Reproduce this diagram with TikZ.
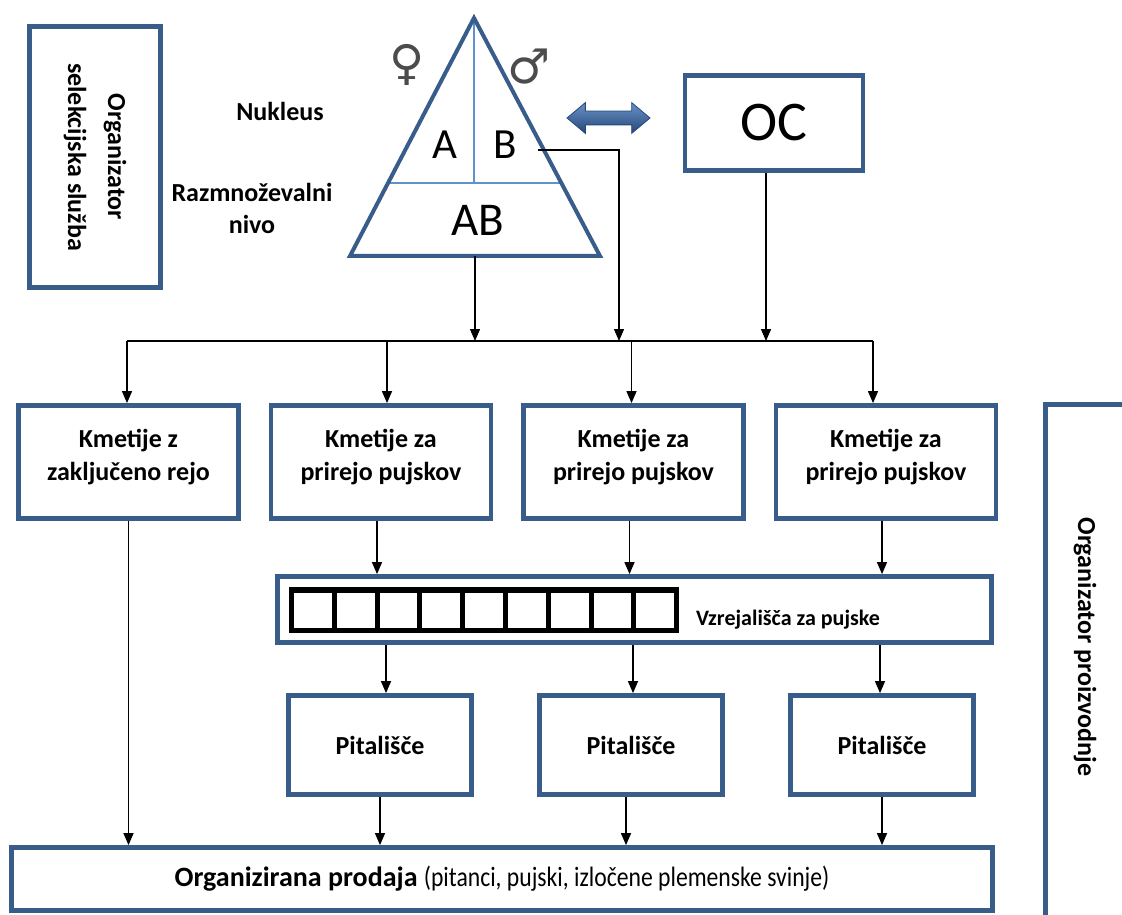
\documentclass[tikz,border=0pt]{standalone}
\usepackage{fontspec}
\setmainfont{Carlito}
\newfontfamily\symfont{DejaVu Sans}
\usepackage{graphicx}
\usetikzlibrary{arrows.meta,shapes.arrows,calc}
\definecolor{boxblue}{RGB}{56,93,138}
\definecolor{lineblue}{RGB}{95,145,205}
\definecolor{arrtop}{RGB}{105,145,200}
\definecolor{arrbot}{RGB}{38,72,120}
\tikzstyle{blue box}=[
        draw = boxblue,
        line width = 2.4pt,
        fill = white,
        rectangle,
        align = center,
        font = \fontsize{13}{16.5}\selectfont\bfseries
    ]
\tikzstyle{farm box}=[
    blue box,
    minimum width = 110pt,
    minimum height = 56.5pt
]
\tikzstyle{feed box}=[
    blue box,
    minimum width = 91.5pt,
    minimum height = 49.5pt
]
\tikzstyle{side text}=[
    align = center,
    font = \fontsize{13}{16}\selectfont\bfseries
]
\newcommand{\farmtext}[1]{\parbox[c][33pt][t]{100pt}{\centering #1}}

\begin{document}
\begin{tikzpicture}[x=0.5pt, y=-0.5pt, node distance={126.25pt},
        arr/.style = {-{Triangle[length=6pt,width=5pt]}, line width=0.65pt},
        letter/.style = {inner sep=0pt, font=\fontsize{21.5}{24}\selectfont},
        sex/.style = {black!70, font=\symfont\fontsize{24}{26}\selectfont}]
        \path[use as bounding box] (0,0) rectangle (1122,914);
        \clip (0,0) rectangle (1122,914);

        % upper level
        \node[blue box, rotate=-90, minimum width=130.5pt, minimum height=65.5pt, font=\fontsize{13}{20}\selectfont\bfseries] (sel) at (95,157) {Organizator\\selekcijska služba};
        \node[side text] (nuk) at (280,111) {Nukleus};
        \node[side text] (raz) at (252,208) {Razmnoževalni\\nivo};

        \coordinate (apex) at (474,18);
        \coordinate (bl) at (350,256);
        \coordinate (br) at (600,256);
        \coordinate (tribot) at ($(bl)!0.5!(br)$);
        \coordinate (divl) at ($(bl)!0.307!(apex)$);
        \coordinate (divr) at ($(br)!0.307!(apex)$);
        \draw[lineblue, line width=1pt] (divl) -- (divr);
        \draw[lineblue, line width=1pt] (apex) -- (apex |- divl);
        \draw[boxblue, line width=2pt] (apex) -- (bl) -- (br) -- cycle;

        \node[letter] (na) at (445,145) {A};
        \node[letter] (nb) at (505,145) {B};
        \node[letter, font=\fontsize{23.5}{26}\selectfont] (nab) at (477.5,220) {AB};
        \node[sex] (fem) at (407,65) {♀};
        \node[sex] (mal) at (529,67) {♂};

        \node[double arrow, draw=arrbot, line width=0.4pt, top color=arrtop, bottom color=arrbot,
              inner xsep=0pt, inner ysep=3.25pt, minimum height=41.5pt,
              double arrow head extend=4.25pt, double arrow tip angle=80] (dbl) at (608.5,118) {};
        \node[blue box, minimum width=89pt, minimum height=47.5pt, font=\fontsize{28}{30}\selectfont] (oc) at (774,123) {OC};

        % bus
        \coordinate (busL) at (127,341);
        \coordinate (busR) at (873,341);
        \coordinate (bjoin) at (619,341);
        \draw[line width=0.65pt] (busL) -- (busR);
        \draw[arr] (tribot) -- (tribot |- busL);
        \draw[arr] ([shift={(21,5)}]nb.east) -| (bjoin);
        \draw[arr] ([xshift=-4pt]oc.south) -- ([xshift=-4pt]oc.south |- busL);

        % farms
        \node[farm box] (k1) at (128.5,462) {\farmtext{Kmetije z\\zaključeno rejo}};
        \node[farm box] (k2) [right of = k1] {\farmtext{Kmetije za\\prirejo pujskov}};
        \node[farm box] (k3) [right of = k2] {\farmtext{Kmetije za\\prirejo pujskov}};
        \node[farm box] (k4) [right of = k3] {\farmtext{Kmetije za\\prirejo pujskov}};

        \draw[arr] (busL) -- (busL |- k1.north);
        \draw[arr] ([xshift=3pt]k2.north |- busL) -- ([xshift=3pt]k2.north);
        \draw[arr] ([xshift=-1pt]k3.north |- busL) -- ([xshift=-1pt]k3.north);
        \draw[arr] (busR) -- (busR |- k4.north);

        % nursery
        \node[blue box, minimum width=357pt, minimum height=33pt] (vz) at (634.5,609.5) {};
        \fill[black] (289,587) rectangle (679,633);
        \foreach \i in {0,...,8}
            \fill[white] ({294+42.8*\i},593) rectangle ({331.8+42.8*\i},628);
        \node[font=\fontsize{11}{13}\selectfont\bfseries] (vzt) at (788,620) {Vzrejališča za pujske};

        \draw[arr] ([xshift=-2pt]k2.south) -- ([xshift=-2pt]k2.south |- vz.north);
        \draw[arr] ([xshift=-2pt]k3.south) -- ([xshift=-2pt]k3.south |- vz.north);
        \draw[arr] ([xshift=-2pt]k4.south) -- ([xshift=-2pt]k4.south |- vz.north);

        % fattening
        \node[feed box] (p1) at (380,745) {Pitališče};
        \node[feed box, node distance=125.5pt] (p2) [right of = p1] {Pitališče};
        \node[feed box, node distance=125.5pt] (p3) [right of = p2] {Pitališče};

        \draw[arr] ([xshift=3pt]p1.north |- vz.south) -- ([xshift=3pt]p1.north);
        \draw[arr] ([xshift=1pt]p2.north |- vz.south) -- ([xshift=1pt]p2.north);
        \draw[arr] ([xshift=-1pt]p3.north |- vz.south) -- ([xshift=-1pt]p3.north);

        % sale
        \node[blue box, minimum width=490.5pt, minimum height=31.5pt, font=\fontsize{14}{16}\selectfont] (prod) at (502,879) {\textbf{Organizirana prodaja} \scalebox{0.845}[1]{(pitanci, pujski, izločene plemenske svinje)}};

        \draw[arr] (k1.south) -- (k1.south |- prod.north);
        \draw[arr] (p1.south) -- (p1.south |- prod.north);
        \draw[arr] ([xshift=-2.5pt]p2.south) -- ([xshift=-2.5pt]p2.south |- prod.north);
        \draw[arr] (p3.south) -- (p3.south |- prod.north);

        % production organiser
        \draw[boxblue, line width=2.4pt] (1045.5,404.5) rectangle (1200,1000);
        \node[side text, rotate=-90] (proiz) at (1085,647) {Organizator proizvodnje};

    \end{tikzpicture}
\end{document}
